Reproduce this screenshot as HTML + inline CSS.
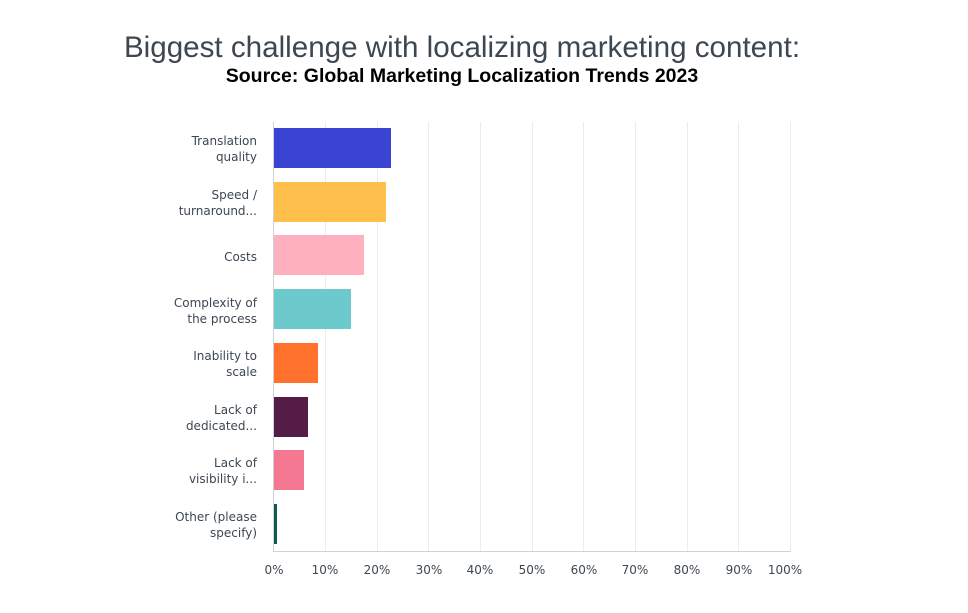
<!DOCTYPE html>
<html><head><meta charset="utf-8"><style>
html,body{margin:0;padding:0;background:#fff;}
svg{display:block}
</style></head><body>
<svg width="968" height="613" xmlns="http://www.w3.org/2000/svg">
<text x="462" y="57" text-anchor="middle" font-family="Liberation Sans, sans-serif" font-size="29.6" fill="#3d4752">Biggest challenge with localizing marketing content:</text>
<text x="462" y="82" text-anchor="middle" font-family="Liberation Sans, sans-serif" font-size="19.5" font-weight="bold" fill="#000">Source: Global Marketing Localization Trends 2023</text>
<g stroke="#ececec" stroke-width="1">
<line x1="325.5" y1="122" x2="325.5" y2="552"/><line x1="377.5" y1="122" x2="377.5" y2="552"/>
<line x1="428.5" y1="122" x2="428.5" y2="552"/><line x1="480.5" y1="122" x2="480.5" y2="552"/>
<line x1="532.5" y1="122" x2="532.5" y2="552"/><line x1="583.5" y1="122" x2="583.5" y2="552"/>
<line x1="635.5" y1="122" x2="635.5" y2="552"/><line x1="687.5" y1="122" x2="687.5" y2="552"/>
<line x1="738.5" y1="122" x2="738.5" y2="552"/><line x1="790.5" y1="122" x2="790.5" y2="552"/>
</g>
<line x1="273.5" y1="122" x2="273.5" y2="552" stroke="#cfd3d6"/>
<line x1="273" y1="551.5" x2="791" y2="551.5" stroke="#cfd3d6"/>
<rect x="274" y="128" width="117" height="40" fill="#3a44d2"/>
<rect x="274" y="182" width="112" height="40" fill="#ffbf4d"/>
<rect x="274" y="235" width="90" height="40" fill="#ffb0be"/>
<rect x="274" y="289" width="77" height="40" fill="#6ccacc"/>
<rect x="274" y="343" width="44" height="40" fill="#ff712c"/>
<rect x="274" y="397" width="34" height="40" fill="#541c47"/>
<rect x="274" y="450" width="30" height="40" fill="#f57892"/>
<rect x="274" y="504" width="3" height="40" fill="#0f5c55"/>
<g font-family="DejaVu Sans, Liberation Sans, sans-serif" font-size="12" fill="#3d4752" text-anchor="end">
<text x="257" y="145">Translation</text><text x="257" y="161">quality</text>
<text x="257" y="199">Speed /</text><text x="257" y="215">turnaround...</text>
<text x="257" y="261">Costs</text>
<text x="257" y="307">Complexity of</text><text x="257" y="323">the process</text>
<text x="257" y="360">Inability to</text><text x="257" y="376">scale</text>
<text x="257" y="414">Lack of</text><text x="257" y="430">dedicated...</text>
<text x="257" y="467">Lack of</text><text x="257" y="483">visibility i...</text>
<text x="257" y="521">Other (please</text><text x="257" y="537">specify)</text>
</g>
<g font-family="DejaVu Sans, Liberation Sans, sans-serif" font-size="12" fill="#3d4752" text-anchor="middle">
<text x="274" y="574">0%</text><text x="325" y="574">10%</text><text x="377" y="574">20%</text>
<text x="429" y="574">30%</text><text x="480" y="574">40%</text><text x="532" y="574">50%</text>
<text x="584" y="574">60%</text><text x="635" y="574">70%</text><text x="687" y="574">80%</text>
<text x="739" y="574">90%</text><text x="785" y="574">100%</text>
</g>
</svg>
</body></html>
